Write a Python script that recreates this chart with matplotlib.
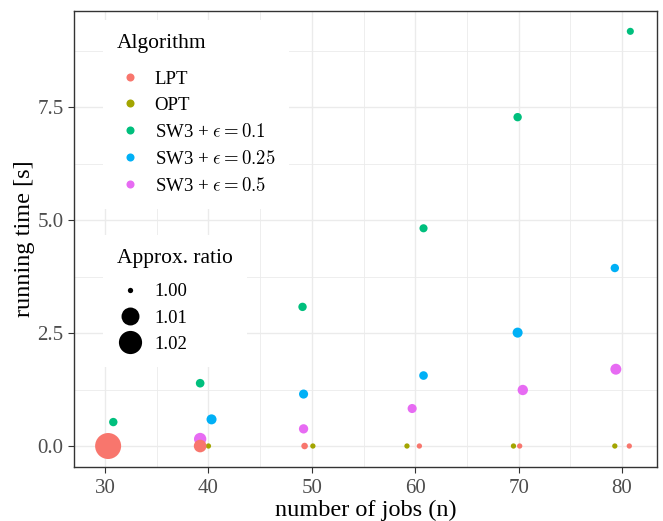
import numpy as np
import matplotlib
matplotlib.use("Agg")
import matplotlib.pyplot as plt
from matplotlib.lines import Line2D

plt.rcParams['font.family'] = ['Liberation Serif', 'DejaVu Serif']
plt.rcParams['mathtext.fontset'] = 'cm'

# data (x positions are jittered in the original)
algorithms = ["LPT", "OPT", "SW3 + $\\epsilon = 0.1$",
              "SW3 + $\\epsilon = 0.25$", "SW3 + $\\epsilon = 0.5$"]
colors = ["#F8766D", "#A3A500", "#00BF7D", "#00B0F6", "#E76BF3"]

lpt_n = [30.3, 39.2, 49.3, 60.4, 70.1, 80.7]
lpt_time = [0.0, 0.0, 0.0, 0.0, 0.0, 0.0]
lpt_ratio = [1.0268, 1.0034, 1.0001, 1.0, 1.0, 1.0]

opt_n = [40.0, 50.1, 59.2, 69.5, 79.3]
opt_time = [0.0, 0.0, 0.0, 0.0, 0.0]
opt_ratio = [1.0, 1.0, 1.0, 1.0, 1.0]

sw01_n = [30.8, 39.2, 49.1, 60.8, 69.9, 80.8]
sw01_time = [0.53, 1.39, 3.08, 4.82, 7.28, 9.18]
sw01_ratio = [1.0006, 1.0007, 1.0006, 1.0005, 1.0006, 1.0002]

sw025_n = [40.3, 49.2, 60.8, 69.9, 79.3]
sw025_time = [0.59, 1.15, 1.56, 2.51, 3.94]
sw025_ratio = [1.0014, 1.0009, 1.0007, 1.0014, 1.0006]

sw05_n = [39.2, 49.2, 59.7, 70.4, 79.4]
sw05_time = [0.155, 0.38, 0.83, 1.24, 1.70]
sw05_ratio = [1.0031, 1.0010, 1.0009, 1.0016, 1.0020]

size_breaks = [1.00, 1.01, 1.02]

x_ticks = [30, 40, 50, 60, 70, 80]
y_ticks = [0.0, 2.5, 5.0, 7.5]

all_ratio = lpt_ratio + opt_ratio + sw01_ratio + sw025_ratio + sw05_ratio
r_min, r_max = min(all_ratio), max(all_ratio)


def dot_size(r):
    # area scale like ggplot's scale_size: diameter ~ sqrt of rescaled value
    r = np.asarray(r, dtype=float)
    d_px = 5.3 + 20.7 * np.sqrt((r - r_min) / (r_max - r_min))
    return (d_px * 0.72) ** 2


fig = plt.figure(figsize=(6.63, 5.21), dpi=100)
ax = fig.add_axes([74 / 663, 1 - 466.7 / 521, (656.7 - 74) / 663, (466.7 - 11) / 521])

series = [
    (sw01_n, sw01_time, sw01_ratio, 2),
    (sw025_n, sw025_time, sw025_ratio, 3),
    (sw05_n, sw05_time, sw05_ratio, 4),
    (opt_n, opt_time, opt_ratio, 1),
    (lpt_n, lpt_time, lpt_ratio, 0),
]
for xs, ys, rs, k in series:
    ax.scatter(xs, ys, s=dot_size(rs), color=colors[k], linewidths=0, zorder=3)

ax.set_xlim(27.0, 83.35)
ax.set_ylim(-0.458, 9.63)
ax.set_xticks(x_ticks)
ax.set_yticks(y_ticks)
ax.set_yticklabels([f"{v:.1f}" for v in y_ticks])
ax.set_xticks([35, 45, 55, 65, 75], minor=True)
ax.set_yticks([1.25, 3.75, 6.25, 8.75], minor=True)
ax.grid(True, which='major', color='#EBEBEB', linewidth=1.0, zorder=0)
ax.grid(True, which='minor', color='#EBEBEB', linewidth=0.6, zorder=0)
ax.set_axisbelow(True)
ax.tick_params(which='minor', length=0)
ax.tick_params(which='major', length=4, width=0.8, color='#333333',
               labelsize=15, labelcolor='#4D4D4D', pad=3.5)
ax.tick_params(axis='x', which='major', pad=4.5)
for spine in ax.spines.values():
    spine.set_color('#333333')
    spine.set_linewidth(1.0)

ax.set_xlabel("number of jobs (n)", fontsize=17.5, labelpad=1.5)
ax.set_ylabel("running time [s]", fontsize=17.5, labelpad=1.5)

# legends
alg_handles = [Line2D([], [], marker='o', linestyle='', markersize=5.8,
                      markerfacecolor=c, markeredgewidth=0) for c in colors]
leg1 = ax.legend(alg_handles, algorithms, title="Algorithm", loc='upper left',
                 bbox_to_anchor=(103 / 663, 1 - 20 / 521), bbox_transform=fig.transFigure,
                 fontsize=13.5, title_fontsize=15.5, alignment='left', frameon=True,
                 fancybox=False, framealpha=1, facecolor='white', edgecolor='none',
                 borderpad=0.75, labelspacing=0.48, handlelength=1.4, handletextpad=0.6,
                 borderaxespad=0)
leg1._legend_box.sep = 12.5
leg1.set_zorder(5)
ax.add_artist(leg1)

size_handles = [Line2D([], [], marker='o', linestyle='', markersize=np.sqrt(dot_size(b)),
                       markerfacecolor='black', markeredgewidth=0) for b in size_breaks]
leg2 = ax.legend(size_handles, [f"{b:.2f}" for b in size_breaks], title="Approx. ratio",
                 loc='upper left', bbox_to_anchor=(103 / 663, 1 - 235 / 521),
                 bbox_transform=fig.transFigure, fontsize=13.5, title_fontsize=15.5,
                 alignment='left', frameon=True, fancybox=False, framealpha=1,
                 facecolor='white', edgecolor='none', borderpad=0.75, labelspacing=0.48,
                 handlelength=1.4, handletextpad=0.6, borderaxespad=0)
leg2._legend_box.sep = 11
leg2.set_zorder(5)

fig.savefig("out.png", dpi=100)
